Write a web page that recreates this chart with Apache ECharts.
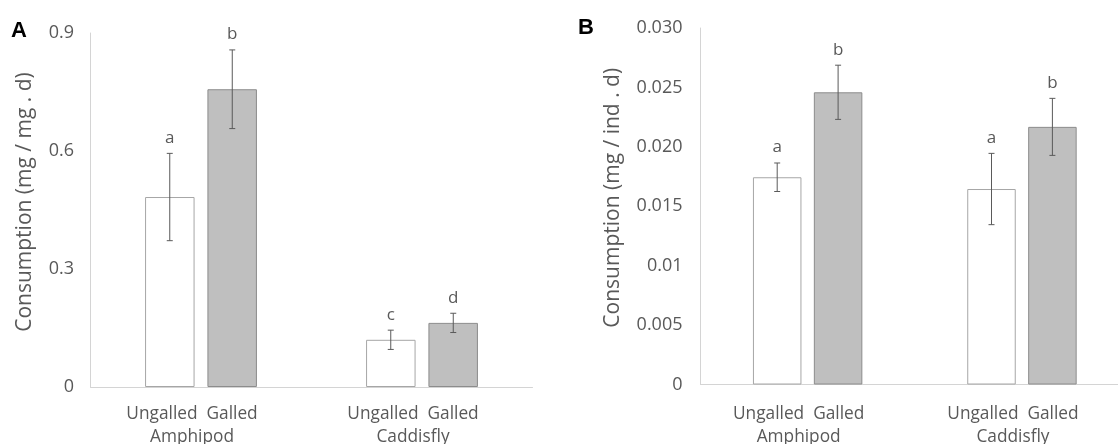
<!DOCTYPE html>
<html>
<head>
<meta charset="utf-8">
<script src="https://cdn.jsdelivr.net/npm/echarts@6/dist/echarts.min.js"></script>
<style>
html,body{margin:0;padding:0;background:#fff;overflow:hidden;}
#chart{width:1118px;height:444px;}
</style>
</head>
<body>
<div id="chart"></div>
<script>
// ---- data ----
const categories = ['Amphipod', 'Caddisfly'];
const treatments = ['Ungalled', 'Galled'];

// Panel A: Consumption (mg / mg . d)
const aUngalled = [0.483, 0.120];
const aGalled = [0.757, 0.163];
const aUngalledErr = [0.111, 0.0245];
const aGalledErr = [0.100, 0.0245];
const aUngalledLetters = ['a', 'c'];
const aGalledLetters = ['b', 'd'];
const aTickLabels = ['0', '0.3', '0.6', '0.9'];

// Panel B: Consumption (mg / ind . d)
const bUngalled = [0.01744, 0.01645];
const bGalled = [0.02459, 0.02168];
const bUngalledErr = [0.0012, 0.0030];
const bGalledErr = [0.00228, 0.0024];
const bUngalledLetters = ['a', 'a'];
const bGalledLetters = ['b', 'b'];
const bTickLabels = ['0', '0.005', '0.01', '0.015', '0.020', '0.025', '0.030'];

// ---- styles ----
const FONT = 'Open Sans';
const TXT = '#595959';
const AXIS = '#d4d4d4';

function errSeries(gridIdx, vals, errs, letters, offset) {
  return {
    type: 'custom',
    xAxisIndex: gridIdx, yAxisIndex: gridIdx,
    z: 5,
    silent: true,
    clip: false,
    data: vals.map((v, i) => [i, v, errs[i]]),
    renderItem: function (params, api) {
      const i = api.value(0), v = api.value(1), e = api.value(2);
      const top = api.coord([i, v + e]);
      const bot = api.coord([i, v - e]);
      const x = top[0] + offset;
      const cap = 3;
      const ls = { stroke: '#5a5a5a', lineWidth: 1 };
      return {
        type: 'group',
        children: [
          { type: 'line', shape: { x1: x, y1: top[1], x2: x, y2: bot[1] }, style: ls },
          { type: 'line', shape: { x1: x - cap, y1: top[1], x2: x + cap, y2: top[1] }, style: ls },
          { type: 'line', shape: { x1: x - cap, y1: bot[1], x2: x + cap, y2: bot[1] }, style: ls },
          { type: 'text', x: x, y: top[1] - 15.5,
            style: { text: letters[i], fill: TXT, font: '17px "' + FONT + '"', align: 'center', verticalAlign: 'middle' } }
        ]
      };
    }
  };
}

function xAxisFor(gridIdx, margin) {
  return {
    type: 'category', gridIndex: gridIdx, data: categories,
    axisLine: { lineStyle: { color: AXIS, width: 1 } },
    axisTick: { show: false },
    axisLabel: {
      color: TXT, fontFamily: FONT, fontSize: 17.3, lineHeight: 23, margin: margin,
      padding: [0, 18, 0, 0],
      formatter: c => treatments.join('  ') + '\n' + c
    }
  };
}

function yAxisFor(gridIdx, max, interval, labels, name, gap, margin, pad) {
  return {
    type: 'value', gridIndex: gridIdx, min: 0, max: max, interval: interval,
    splitLine: { show: false },
    axisTick: { show: false },
    axisLine: { show: true, lineStyle: { color: AXIS, width: 1 } },
    axisLabel: {
      color: TXT, fontFamily: FONT, fontSize: 18, margin: margin,
      formatter: v => labels[Math.round(v / interval)]
    },
    name: name, nameLocation: 'middle', nameRotate: 90, nameGap: gap,
    nameTextStyle: { color: TXT, fontFamily: FONT, fontSize: 21, padding: [0, 0, 0, pad] }
  };
}

const ungalledStyle = { color: '#ffffff', borderColor: '#a6a6a6', borderWidth: 1 };
const galledStyle = { color: '#bfbfbf', borderColor: '#8c8c8c', borderWidth: 1 };

const option = {
  backgroundColor: '#ffffff',
  animation: false,
  textStyle: { fontFamily: FONT },
  grid: [
    { left: 90.5, top: 33, width: 442, bottom: 57, containLabel: false, outerBoundsMode: 'none' },
    { left: 700.5, top: 28, width: 428.6, bottom: 59.5, containLabel: false, outerBoundsMode: 'none' }
  ],
  xAxis: [xAxisFor(0, 16), xAxisFor(1, 18)],
  yAxis: [
    yAxisFor(0, 0.9, 0.3, aTickLabels, 'Consumption (mg / mg . d)', 55, 16.5, 16),
    yAxisFor(1, 0.03, 0.005, bTickLabels, 'Consumption (mg / ind . d)', 76.5, 18, 17)
  ],
  series: [
    { type: 'bar', name: treatments[0], xAxisIndex: 0, yAxisIndex: 0, data: aUngalled,
      barWidth: 49.5, barGap: '26%', itemStyle: ungalledStyle },
    { type: 'bar', name: treatments[1], xAxisIndex: 0, yAxisIndex: 0, data: aGalled,
      barWidth: 49.5, barGap: '26%', itemStyle: galledStyle },
    { type: 'bar', name: treatments[0], xAxisIndex: 1, yAxisIndex: 1, data: bUngalled,
      barWidth: 48.5, barGap: '25.6%', itemStyle: ungalledStyle },
    { type: 'bar', name: treatments[1], xAxisIndex: 1, yAxisIndex: 1, data: bGalled,
      barWidth: 48.5, barGap: '25.6%', itemStyle: galledStyle },
    errSeries(0, aUngalled, aUngalledErr, aUngalledLetters, -31.25),
    errSeries(0, aGalled, aGalledErr, aGalledLetters, 31.25),
    errSeries(1, bUngalled, bUngalledErr, bUngalledLetters, -30.45),
    errSeries(1, bGalled, bGalledErr, bGalledLetters, 30.45)
  ],
  graphic: [
    { type: 'text', left: 11, top: 20, style: { text: 'A', fill: '#000', font: 'bold 22px "Liberation Sans"' } },
    { type: 'text', left: 578, top: 17, style: { text: 'B', fill: '#000', font: 'bold 22px "Liberation Sans"' } }
  ]
};

const chart = echarts.init(document.getElementById('chart'), null, { renderer: 'canvas' });
chart.setOption(option);
</script>
</body>
</html>
